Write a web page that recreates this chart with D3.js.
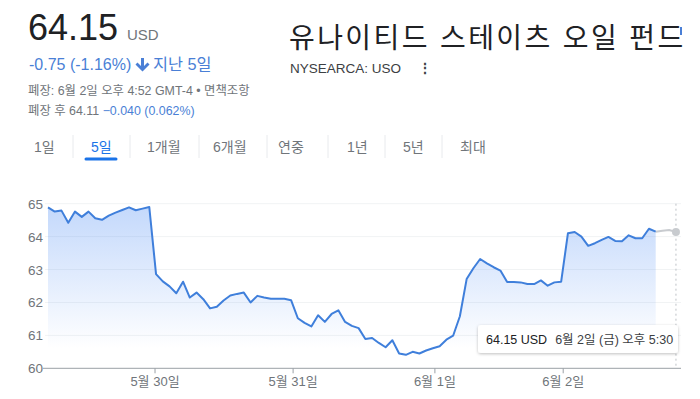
<!DOCTYPE html>
<html><head><meta charset="utf-8">
<script src="https://cdn.jsdelivr.net/npm/d3@7"></script>
<style>
html,body{margin:0;padding:0;background:#fff;}
svg{display:block;font-family:"Liberation Sans",Arial,"Noto Sans CJK KR",sans-serif;}
</style></head>
<body><svg id="c" width="700" height="399"></svg>
<script>
// ---- data ----
const prices = [64.89,64.76,64.79,64.42,64.76,64.60,64.76,64.56,64.51,64.64,64.73,64.81,64.89,64.80,64.85,64.90,
62.86,62.64,62.49,62.28,62.63,62.15,62.30,62.10,61.82,61.87,62.06,62.21,62.26,62.30,62.00,62.20,62.15,62.11,62.11,62.11,62.07,
61.52,61.38,61.27,61.61,61.41,61.65,61.76,61.41,61.29,61.22,60.89,60.92,60.77,60.64,60.85,60.45,60.41,60.50,60.45,60.54,60.61,60.67,60.87,60.99,
61.58,62.71,63.04,63.32,63.19,63.07,62.97,62.62,62.62,62.61,62.56,62.56,62.67,62.51,62.61,62.63,
64.10,64.14,64.00,63.72,63.80,63.90,63.99,63.87,63.86,64.04,63.95,63.95,64.24,64.15];
const afterHours = [64.15,64.18,64.20,64.14];
const yTicks = [60,61,62,63,64,65];
const xTickLabels = ["5월 30일","5월 31일","6월 1일","6월 2일"];
const xTickPos = [15.85,36.3,57.3,76.3];
const tabs = ["1일","5일","1개월","6개월","연중","1년","5년","최대"];
const tabX = [34,91,147,213,278,347,403,460];
const sepX = [73,130,199,267,328,385,442];

const svg = d3.select("#c");
const x = d3.scaleLinear().domain([0, prices.length-1]).range([48, 655.7]);
const y = d3.scaleLinear().domain([60,65]).range([368.3, 203.7]);
const grey = "#70757a";
const blue = "#4a7fd6";

// header
svg.append("text").attr("x",28).attr("y",40).attr("font-size",36).attr("fill","#202124").text("64.15");
svg.append("text").attr("x",127).attr("y",40).attr("font-size",15).attr("fill",grey).text("USD");
svg.append("text").attr("x",29).attr("y",70).attr("font-size",16).attr("fill",blue).text("-0.75 (-1.16%)");
svg.append("path").attr("d","M141,58 h3 v8 l3.5,-3.5 l2,2 l-7,7 l-7,-7 l2,-2 l3.5,3.5 z").attr("fill",blue);
svg.append("text").attr("x",153).attr("y",70).attr("font-size",16.3).attr("fill",blue).text("지난 5일");
svg.append("text").attr("x",28).attr("y",95).attr("font-size",12.4).attr("fill",grey).text("폐장: 6월 2일 오후 4:52 GMT-4 • 면책조항");
const t4 = svg.append("text").attr("x",28).attr("y",115).attr("font-size",12.4).attr("fill",grey);
t4.append("tspan").text("폐장 후 64.11 ");
t4.append("tspan").attr("fill",blue).text("−0.040 (0.062%)");

svg.append("text").attr("x",289).attr("y",48).attr("font-size",28).attr("letter-spacing",2.4).attr("fill","#202124").text("유나이티드 스테이츠 오일 펀드");
svg.append("rect").attr("x",680).attr("y",27).attr("width",2).attr("height",8).attr("fill",blue);
svg.append("text").attr("x",290).attr("y",73).attr("font-size",13.5).attr("fill","#3c4043").text("NYSEARCA: USO");
svg.append("text").attr("x",418).attr("y",73).attr("font-size",14).attr("font-weight","bold").attr("fill","#3c4043").text("⋮");

// tabs
tabs.forEach((t,i)=>{
  svg.append("text").attr("x",tabX[i]).attr("y",152).attr("font-size",14)
    .attr("fill", i===1 ? "#1a73e8" : grey).text(t);
});
sepX.forEach(sx=>svg.append("line").attr("x1",sx).attr("x2",sx).attr("y1",135).attr("y2",158).attr("stroke","#e8eaed"));
svg.append("line").attr("x1",86).attr("x2",116).attr("y1",159).attr("y2",159)
  .attr("stroke","#1a73e8").attr("stroke-width",3).attr("stroke-linecap","round");

// gridlines
svg.append("g").selectAll("line").data(yTicks.slice(1)).join("line")
  .attr("x1",45).attr("x2",681).attr("y1",d=>y(d)).attr("y2",d=>y(d))
  .attr("stroke","#f1f3f4");

// gradient
const defs = svg.append("defs");
const g = defs.append("linearGradient").attr("id","fillg").attr("gradientUnits","userSpaceOnUse")
  .attr("x1",0).attr("x2",0).attr("y1",y(65)).attr("y2",y(60.6));
g.append("stop").attr("offset",0).attr("stop-color","#4285f4").attr("stop-opacity",0.32);
g.append("stop").attr("offset",1).attr("stop-color","#4285f4").attr("stop-opacity",0.0);

svg.append("path").datum(prices)
  .attr("d", d3.area().x((d,i)=>x(i)).y0(y(60)).y1(d=>y(d)))
  .attr("fill","url(#fillg)");

// y axis labels
svg.append("g").selectAll("text").data(yTicks).join("text")
  .attr("x",43).attr("y",d=>y(d)+5).attr("text-anchor","end").attr("font-size",13.5).attr("fill",grey)
  .text(d=>d);

// x axis
const baseY = y(60);
svg.append("line").attr("x1",43).attr("x2",681).attr("y1",baseY).attr("y2",baseY).attr("stroke","#9aa0a6").attr("stroke-width",1);
svg.append("g").selectAll("line").data(xTickPos).join("line")
  .attr("x1",d=>x(d)).attr("x2",d=>x(d)).attr("y1",baseY).attr("y2",baseY+5).attr("stroke","#9aa0a6");
svg.append("g").selectAll("text").data(xTickPos).join("text")
  .attr("x",d=>x(d)).attr("y",baseY+18).attr("text-anchor","middle").attr("font-size",13).attr("fill",grey)
  .text((d,i)=>xTickLabels[i]);

// dotted vertical
const lastI = prices.length-1+afterHours.length-1;
svg.append("line").attr("x1",x(lastI)).attr("x2",x(lastI)).attr("y1",y(65)).attr("y2",baseY)
  .attr("stroke","#bdc1c6").attr("stroke-dasharray","2,3");

// after-hours line
svg.append("path").datum(afterHours)
  .attr("d", d3.line().x((d,i)=>x(prices.length-1+i)).y(d=>y(d)))
  .attr("fill","none").attr("stroke","#c8cbcf").attr("stroke-width",2);
svg.append("circle").attr("cx",x(lastI)).attr("cy",y(afterHours[afterHours.length-1])).attr("r",4).attr("fill","#c8cbcf");

// main line
svg.append("path").datum(prices)
  .attr("d", d3.line().x((d,i)=>x(i)).y(d=>y(d)))
  .attr("fill","none").attr("stroke","#3f7fdb").attr("stroke-width",2).attr("stroke-linejoin","round");

// tooltip
const tt = svg.append("g");
defs.append("filter").attr("id","sh").attr("x","-10%").attr("y","-30%").attr("width","120%").attr("height","170%")
  .append("feDropShadow").attr("dx",0).attr("dy",1).attr("stdDeviation",1.5).attr("flood-color","#000").attr("flood-opacity",0.25);
tt.append("rect").attr("x",478).attr("y",325).attr("width",200).attr("height",28).attr("rx",3)
  .attr("fill","#fff").attr("filter","url(#sh)");
const tx = tt.append("text").attr("x",486).attr("y",344).attr("font-size",12.5).attr("fill","#202124");
tx.append("tspan").text("64.15 USD");
tx.append("tspan").attr("dx",8).attr("fill","#3c4043").text("6월 2일 (금) 오후 5:30");
</script></body></html>
